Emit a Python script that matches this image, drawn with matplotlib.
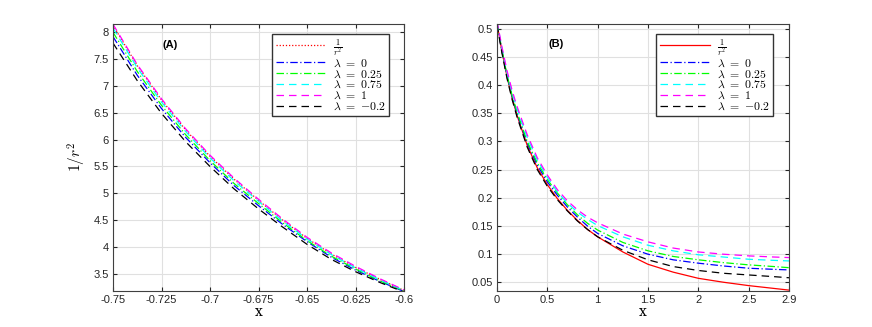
import matplotlib
matplotlib.use("Agg")
import matplotlib.pyplot as plt

plt.rcParams['mathtext.fontset'] = 'cm'
plt.rcParams['font.family'] = ['Liberation Sans', 'DejaVu Sans']

# panel (A) data
xa = [-0.75, -0.7375, -0.725, -0.7125, -0.7, -0.6875, -0.675, -0.6625, -0.65, -0.6375, -0.625, -0.6125, -0.6]
a_inv = [8.13, 7.38, 6.74, 6.18, 5.69, 5.26, 4.87, 4.50, 4.16, 3.87, 3.62, 3.40, 3.19]
a_l0 = [7.92, 7.20, 6.58, 6.04, 5.57, 5.14, 4.77, 4.42, 4.10, 3.81, 3.57, 3.36, 3.17]
a_l025 = [8.00, 7.27, 6.64, 6.09, 5.61, 5.18, 4.81, 4.45, 4.12, 3.83, 3.59, 3.37, 3.18]
a_l075 = [8.08, 7.34, 6.70, 6.15, 5.66, 5.23, 4.85, 4.48, 4.15, 3.86, 3.61, 3.39, 3.19]
a_l1 = [8.15, 7.40, 6.76, 6.20, 5.71, 5.28, 4.89, 4.52, 4.18, 3.89, 3.64, 3.41, 3.20]
a_lm02 = [7.80, 7.10, 6.49, 5.96, 5.50, 5.08, 4.71, 4.37, 4.05, 3.77, 3.54, 3.34, 3.16]

# panel (B) data
xb = [0, 0.05, 0.1, 0.15, 0.2, 0.3, 0.4, 0.5, 0.6, 0.7, 0.8, 0.9, 1.0, 1.25, 1.5, 1.75, 2.0, 2.25, 2.5, 2.75, 2.9]
b_inv = [0.510, 0.460, 0.415, 0.378, 0.346, 0.293, 0.253, 0.223, 0.198, 0.177, 0.159, 0.143, 0.130, 0.103, 0.081, 0.067, 0.056, 0.049, 0.043, 0.038, 0.035]
b_l0 = [0.510, 0.460, 0.416, 0.380, 0.349, 0.297, 0.258, 0.228, 0.204, 0.183, 0.165, 0.149, 0.136, 0.114, 0.099, 0.089, 0.083, 0.078, 0.074, 0.072, 0.071]
b_l025 = [0.511, 0.462, 0.418, 0.382, 0.352, 0.300, 0.262, 0.232, 0.208, 0.187, 0.169, 0.154, 0.142, 0.120, 0.105, 0.095, 0.089, 0.084, 0.080, 0.077, 0.075]
b_l075 = [0.513, 0.465, 0.422, 0.387, 0.358, 0.307, 0.267, 0.236, 0.210, 0.190, 0.174, 0.161, 0.150, 0.130, 0.115, 0.105, 0.098, 0.094, 0.090, 0.088, 0.087]
b_l1 = [0.515, 0.468, 0.426, 0.391, 0.362, 0.312, 0.271, 0.240, 0.214, 0.194, 0.178, 0.165, 0.155, 0.135, 0.121, 0.110, 0.103, 0.099, 0.096, 0.094, 0.093]
b_lm02 = [0.508, 0.457, 0.412, 0.375, 0.343, 0.290, 0.250, 0.220, 0.196, 0.176, 0.158, 0.143, 0.130, 0.106, 0.089, 0.077, 0.070, 0.065, 0.062, 0.059, 0.057]

labels = [r'$\frac{1}{r^2}$', r'$\lambda\ =\ 0$', r'$\lambda\ =\ 0.25$',
          r'$\lambda\ =\ 0.75$', r'$\lambda\ =\ 1$', r'$\lambda\ =\ {-0.2}$']
colors = ['red', 'blue', '#00ff00', 'cyan', 'magenta', 'black']
styles = [(0, (1, 1.5)), (0, (6, 2, 1, 2)), (0, (6, 2, 1, 2)),
          (0, (6, 4)), (0, (6, 4)), (0, (6, 4))]

fig = plt.figure(figsize=(8.72, 3.27), dpi=100)
axA = fig.add_axes([113/872, 36/327, 291/872, 267/327])
axB = fig.add_axes([497/872, 36/327, 292/872, 267/327])


def style_axes(ax):
    ax.grid(True, color='#e0e0e0', linewidth=0.8)
    ax.set_axisbelow(True)
    ax.tick_params(direction='in', length=3, labelsize=8, colors='#262626',
                   top=True, right=True, pad=3)
    for s in ax.spines.values():
        s.set_color('#404040')
        s.set_linewidth(0.8)


def add_legend(ax, right):
    ax.legend(loc='upper right', bbox_to_anchor=(right, 0.9625), fontsize=8.5,
              handlelength=4.2, labelspacing=-0.1, borderpad=0.3, borderaxespad=0,
              fancybox=False, edgecolor='#333333', framealpha=1, handletextpad=0.6)


seriesA = [a_inv, a_l0, a_l025, a_l075, a_l1, a_lm02]
for ys, c, ls, lab in zip(seriesA, colors, styles, labels):
    axA.plot(xa, ys, color=c, linestyle=ls, linewidth=0.9, label=lab)
axA.set_xlim(-0.75, -0.6)
axA.set_ylim(3.18, 8.155)
xtA = [-0.75, -0.725, -0.7, -0.675, -0.65, -0.625, -0.6]
axA.set_xticks(xtA)
axA.set_xticklabels(['-0.75', '-0.725', '-0.7', '-0.675', '-0.65', '-0.625', '-0.6'])
ytA = [3.5, 4, 4.5, 5, 5.5, 6, 6.5, 7, 7.5, 8]
axA.set_yticks(ytA)
axA.set_yticklabels(['3.5', '4', '4.5', '5', '5.5', '6', '6.5', '7', '7.5', '8'])
style_axes(axA)
axA.set_xlabel('x', fontsize=10, family='DejaVu Serif', labelpad=0)
axA.set_ylabel(r'$1/r^2$', fontsize=11, labelpad=4)
axA.text(0.17, 0.92, '(A)', transform=axA.transAxes, fontsize=8, fontweight='bold', va='center')
add_legend(axA, 0.948)

seriesB = [b_inv, b_l0, b_l025, b_l075, b_l1, b_lm02]
stylesB = ['-'] + styles[1:]
for ys, c, ls, lab in zip(seriesB, colors, stylesB, labels):
    axB.plot(xb, ys, color=c, linestyle=ls, linewidth=0.9, label=lab)
axB.set_xlim(0, 2.9)
axB.set_ylim(0.0334, 0.5095)
axB.set_xticks([0, 0.5, 1, 1.5, 2, 2.5, 2.9])
axB.set_xticklabels(['0', '0.5', '1', '1.5', '2', '2.5', '2.9'])
ytB = [0.05, 0.1, 0.15, 0.2, 0.25, 0.3, 0.35, 0.4, 0.45, 0.5]
axB.set_yticks(ytB)
axB.set_yticklabels(['0.05', '0.1', '0.15', '0.2', '0.25', '0.3', '0.35', '0.4', '0.45', '0.5'])
style_axes(axB)
axB.set_xlabel('x', fontsize=10, family='DejaVu Serif', labelpad=0)
axB.text(0.175, 0.925, '(B)', transform=axB.transAxes, fontsize=8, fontweight='bold', va='center')
add_legend(axB, 0.945)

fig.savefig('out.png', dpi=100)
